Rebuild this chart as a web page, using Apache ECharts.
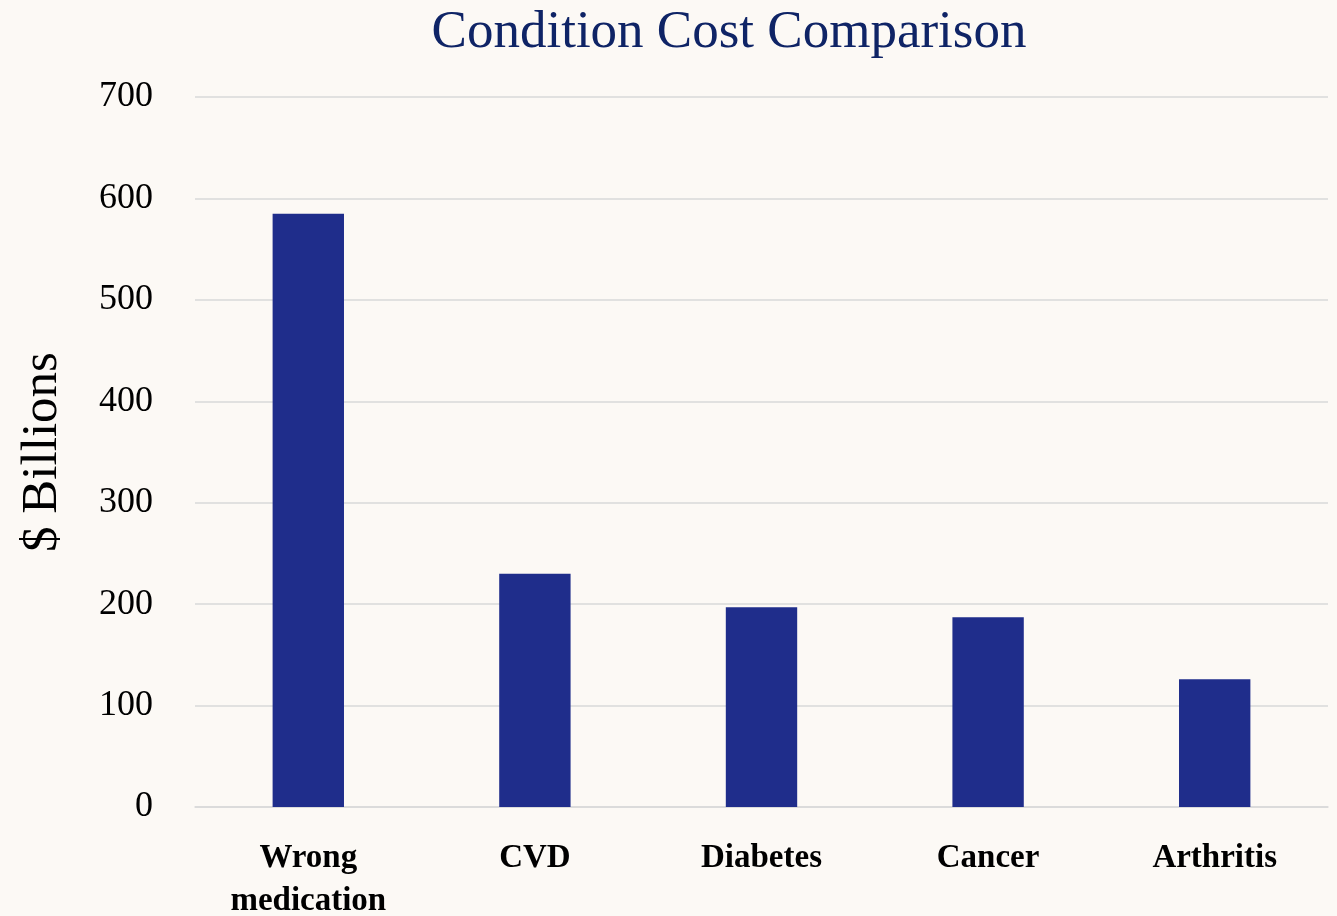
<!DOCTYPE html>
<html>
<head>
<meta charset="utf-8">
<title>Condition Cost Comparison</title>
<script src="https://cdn.jsdelivr.net/npm/echarts@6/dist/echarts.min.js"></script>
<style>
  html, body { margin: 0; padding: 0; background: #fcf9f5; }
  #chart { width: 1337px; height: 916px; }
</style>
</head>
<body>
<div id="chart"></div>
<script>
// Annual cost by condition, in billions of dollars
const categories = ['Wrong\nmedication', 'CVD', 'Diabetes', 'Cancer', 'Arthritis'];
const costs = [585, 230, 197, 187, 126];
const yTicks = [0, 100, 200, 300, 400, 500, 600, 700];

const serif = '"Liberation Serif", "DejaVu Serif", serif';
const chart = echarts.init(document.getElementById('chart'), null, { renderer: 'canvas' });

chart.setOption({
  backgroundColor: '#fcf9f5',
  animation: false,
  graphic: [{
    type: 'text',
    x: 729,
    y: 7,
    style: {
      text: 'Condition Cost Comparison',
      fill: '#0f2466',
      font: '53px ' + serif,
      textAlign: 'center',
      textVerticalAlign: 'top'
    }
  }],
  grid: { left: 195, right: 9, top: 97, bottom: 109, outerBoundsMode: 'none' },
  xAxis: {
    type: 'category',
    data: categories,
    axisLine: { show: true, lineStyle: { color: '#d9d9d9', width: 1.5 } },
    axisTick: { show: false },
    axisLabel: {
      color: '#000',
      fontFamily: serif,
      fontWeight: 'bold',
      fontSize: 33,
      lineHeight: 43,
      margin: 30,
      interval: 0
    }
  },
  yAxis: {
    type: 'value',
    min: yTicks[0],
    max: yTicks[yTicks.length - 1],
    interval: 100,
    name: '$ Billions',
    nameLocation: 'middle',
    nameGap: 127,
    nameTextStyle: { color: '#000', fontFamily: serif, fontSize: 51 },
    axisLine: { show: false },
    axisTick: { show: false },
    axisLabel: { color: '#000', fontFamily: serif, fontSize: 36, margin: 42 },
    splitLine: { lineStyle: { color: '#d9d9d9', width: 1.5 } }
  },
  series: [{
    type: 'bar',
    data: costs,
    barWidth: '31.5%',
    itemStyle: { color: '#1f2d8b' }
  }]
});
</script>
</body>
</html>
